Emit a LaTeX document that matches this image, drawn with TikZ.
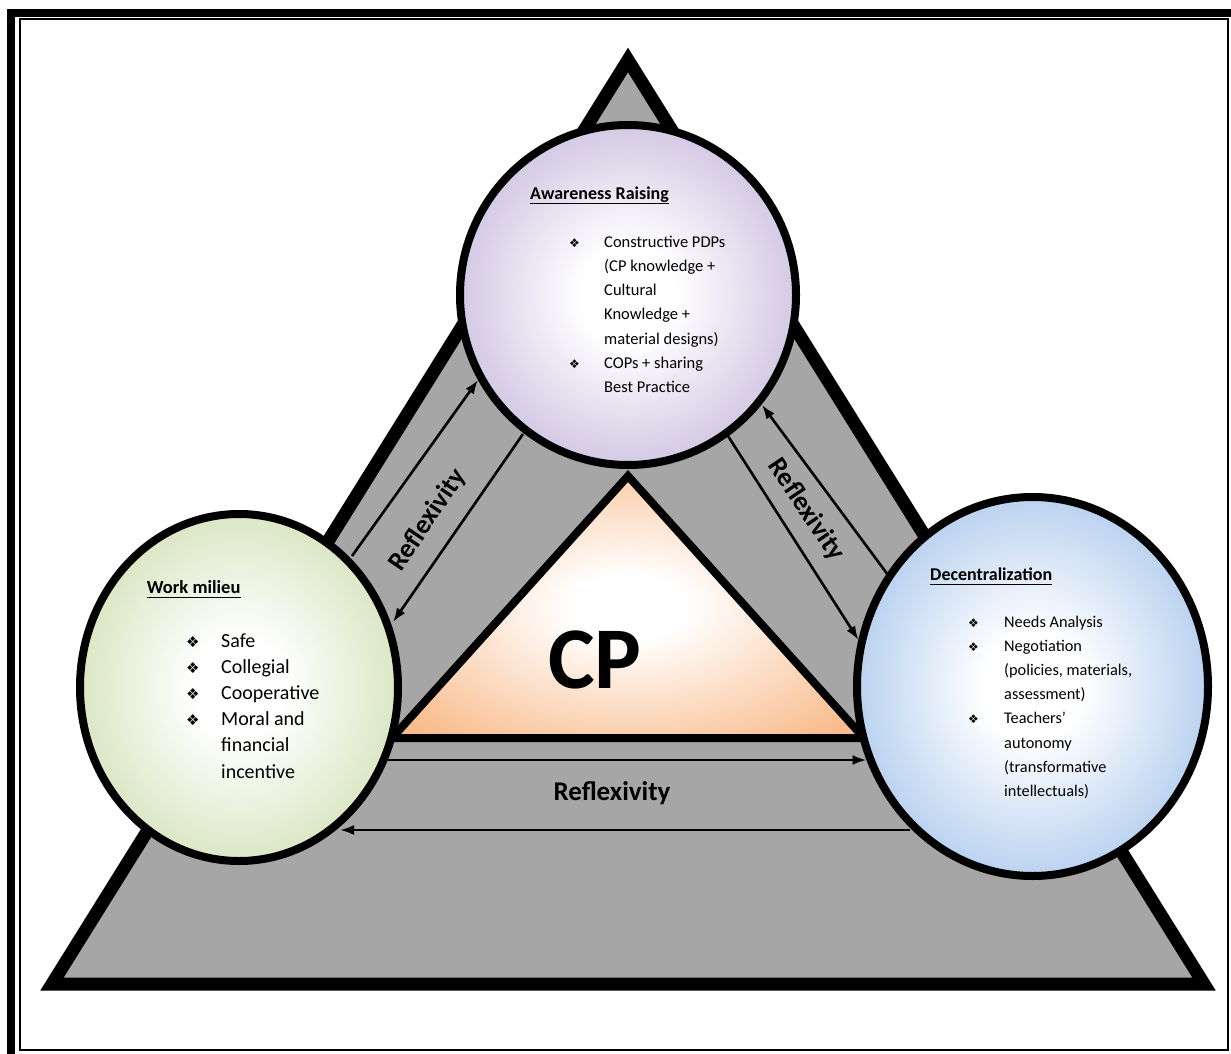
\documentclass[tikz,border=0pt]{standalone}
\usepackage{fontspec}
\setmainfont{Carlito}
\newfontfamily\dingfont{DejaVu Sans}
\usetikzlibrary{shapes.geometric,arrows.meta}

\definecolor{bandgray}{RGB}{166,166,166}
\definecolor{peach}{RGB}{249,188,140}
\definecolor{lilac}{RGB}{160,138,196}
\definecolor{sage}{RGB}{178,202,128}
\definecolor{sky}{RGB}{106,158,222}

\pgfdeclareradialshading{lilacball}{\pgfpoint{0bp}{0bp}}{color(0bp)=(white); color(7bp)=(white); color(46bp)=(lilac); color(50bp)=(lilac)}
\pgfdeclareradialshading{sageball}{\pgfpoint{0bp}{0bp}}{color(0bp)=(white); color(7bp)=(white); color(46bp)=(sage); color(50bp)=(sage)}
\pgfdeclareradialshading{skyball}{\pgfpoint{0bp}{0bp}}{color(0bp)=(white); color(7bp)=(white); color(46bp)=(sky); color(50bp)=(sky)}
\pgfdeclareradialshading{peachglow}{\pgfpoint{0bp}{0bp}}{color(0bp)=(white); color(6bp)=(white); color(32bp)=(peach); color(50bp)=(peach)}

\newcommand{\bul}[1][12]{{\dingfont\fontsize{#1}{#1}\selectfont ❖}}

\begin{document}
\begin{tikzpicture}[x=1pt,y=-1pt,
    bubble/.style={ellipse, draw, shade, line width=8, inner sep=0pt},
    flow/.style={-{Latex[length=14pt,width=10pt]}, line width=2.6},
    head/.style={anchor=base west, inner sep=0pt, font=\bfseries\fontsize{18}{18}\selectfont},
    items/.style={anchor=base west, inner sep=0pt},
    reflex/.style={inner sep=0pt, font=\bfseries\fontsize{27}{27}\selectfont}]
  \useasboundingbox (0,0) rectangle (1231,1054);

  % frame
  \draw[line width=8] (7,13.5) -- (1231,13.5);
  \draw[line width=8] (11.3,10) -- (11.3,1054);
  \draw[line width=2] (19.5,19.5) rectangle (1227.7,1050.3);

  % big triangle and CP triangle
  \draw[line width=13, fill=bandgray] (628,60) -- (52,984) -- (1204,984) -- cycle;
  \shadedraw[shading=peachglow, line width=8] (628,476) -- (392,738) -- (864,738) -- cycle;

  % the three circles
  \node[bubble, shading=lilacball, minimum width=336, minimum height=340] (aware) at (628,295) {};
  \node[bubble, shading=sageball, minimum width=318, minimum height=347] (work) at (239,687.5) {};
  \node[bubble, shading=skyball, minimum width=351, minimum height=379] (decent) at (1032.5,686.5) {};

  % arrow ends
  \coordinate (w2a-tail) at (352,556);
  \coordinate (w2a-head) at (478,380);
  \coordinate (a2w-tail) at (523,434);
  \coordinate (a2w-head) at (393,622);
  \coordinate (d2a-tail) at (888,575);
  \coordinate (d2a-head) at (762,405);
  \coordinate (a2d-tail) at (728,436);
  \coordinate (a2d-head) at (858.5,640);
  \coordinate (w2d-tail) at (387.8,760);
  \coordinate (w2d-head) at (866.5,760);
  \coordinate (d2w-tail) at (910,830);
  \coordinate (d2w-head) at (340,830);

  \draw[flow] (w2a-tail) -- (w2a-head);
  \draw[flow] (a2w-tail) -- (a2w-head);
  \draw[flow] (d2a-tail) -- (d2a-head);
  \draw[flow] (a2d-tail) -- (a2d-head);
  \draw[flow] (w2d-tail) -- (w2d-head);
  \draw[flow] (d2w-tail) -- (d2w-head);

  \node[reflex, rotate=56] (refl-left) at (428,520) {Reflexivity};
  \node[reflex, rotate=-56] (refl-right) at (806,510) {Reflexivity};
  \node[reflex] (refl-bottom) at (612,793) {Reflexivity};

  \node[font=\bfseries\fontsize{88}{88}\selectfont, inner sep=0pt] (cp) at (595,660) {CP};

  % circle texts
  \node[head] (aware-head) at (530,199) {Awareness Raising};
  \draw[line width=1.8] ([yshift=-4.5pt]aware-head.base west) -- ([yshift=-4.5pt]aware-head.base east);
  \node[items, font=\fontsize{16.5}{24.3}\selectfont] (aware-list) at (569,247)
    {\begin{tabular}[t]{@{}p{35pt}@{}l@{}}
      \bul & Constructive PDPs\\
           & (CP knowledge +\\
           & Cultural\\
           & Knowledge +\\
           & material designs)\\
      \bul & COPs + sharing\\
           & Best Practice
    \end{tabular}};

  \node[head, font=\bfseries\fontsize{18.5}{18.5}\selectfont] (work-head) at (146.7,593) {Work milieu};
  \draw[line width=1.8] ([yshift=-4.5pt]work-head.base west) -- ([yshift=-4.5pt]work-head.base east);
  \node[items, font=\fontsize{20}{26.2}\selectfont] (work-list) at (186,647)
    {\begin{tabular}[t]{@{}p{35pt}@{}l@{}}
      \bul[15] & Safe\\
      \bul[15] & Collegial\\
      \bul[15] & Cooperative\\
      \bul[15] & Moral and\\
               & financial\\
               & incentive
    \end{tabular}};

  \node[head] (decent-head) at (930,580) {Decentralization};
  \draw[line width=1.8] ([yshift=-4.5pt]decent-head.base west) -- ([yshift=-4.5pt]decent-head.base east);
  \node[items, font=\fontsize{16.3}{24.2}\selectfont] (decent-list) at (968,627)
    {\begin{tabular}[t]{@{}p{36pt}@{}l@{}}
      \bul & Needs Analysis\\
      \bul & Negotiation\\
           & (policies, materials,\\
           & assessment)\\
      \bul & Teachers'\\
           & autonomy\\
           & (transformative\\
           & intellectuals)
    \end{tabular}};
\end{tikzpicture}
\end{document}
